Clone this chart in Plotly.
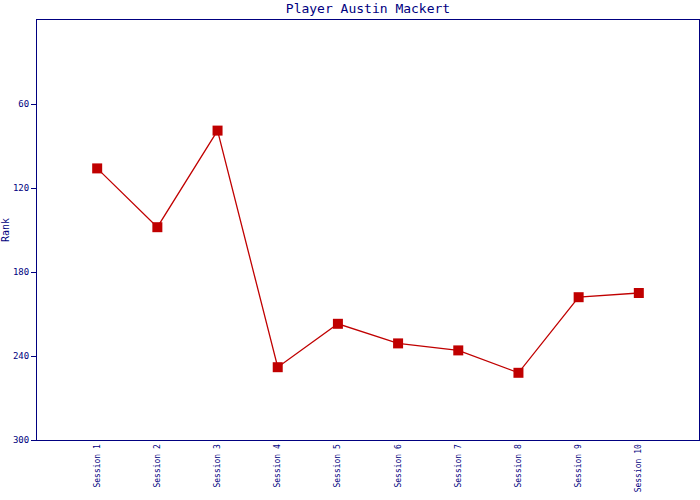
import plotly.graph_objects as go

sessions = ["Session 1", "Session 2", "Session 3", "Session 4", "Session 5",
            "Session 6", "Session 7", "Session 8", "Session 9", "Session 10"]
ranks = [106, 148, 79, 248, 217, 231, 236, 252, 198, 195]
y_ticks = [60, 120, 180, 240, 300]

navy = "#000080"
red = "#c00000"
font = "DejaVu Sans Mono"

fig = go.Figure(go.Scatter(
    x=list(range(len(sessions))), y=ranks, mode="lines+markers",
    line=dict(color=red, width=1.3),
    marker=dict(symbol="square", size=10, color=red),
))

fig.update_layout(
    width=700, height=500,
    margin=dict(l=37, r=1, t=20, b=60, autoexpand=False),
    paper_bgcolor="white", plot_bgcolor="white",
    showlegend=False,
    title=dict(text="Player Austin Mackert", x=0.5, xanchor="center",
               xref="paper", y=0.984, yref="container", yanchor="middle",
               font=dict(family=font, size=13, color=navy)),
    xaxis=dict(range=[-1, 10], tickmode="array", tickvals=list(range(len(sessions))),
               ticktext=sessions, tickangle=-90, showgrid=False, zeroline=False,
               automargin=False,
               showline=True, linecolor=navy, linewidth=1, mirror=True, ticks="",
               tickfont=dict(family=font, size=8, color=navy)),
    yaxis=dict(range=[300, 0], tickmode="array", tickvals=y_ticks,
               showgrid=False, zeroline=False, automargin=False,
               showline=True, linecolor=navy, linewidth=1, mirror=True,
               ticks="outside", ticklen=5, tickcolor=navy,
               tickfont=dict(family=font, size=9, color=navy),
               title=dict(text="Rank", font=dict(family=font, size=10, color=navy), standoff=6)),
)

fig.write_html(
    "out.html",
    config={"responsive": False, "displayModeBar": False},
    post_script="document.body.style.margin='0';document.body.style.overflow='hidden';",
)
